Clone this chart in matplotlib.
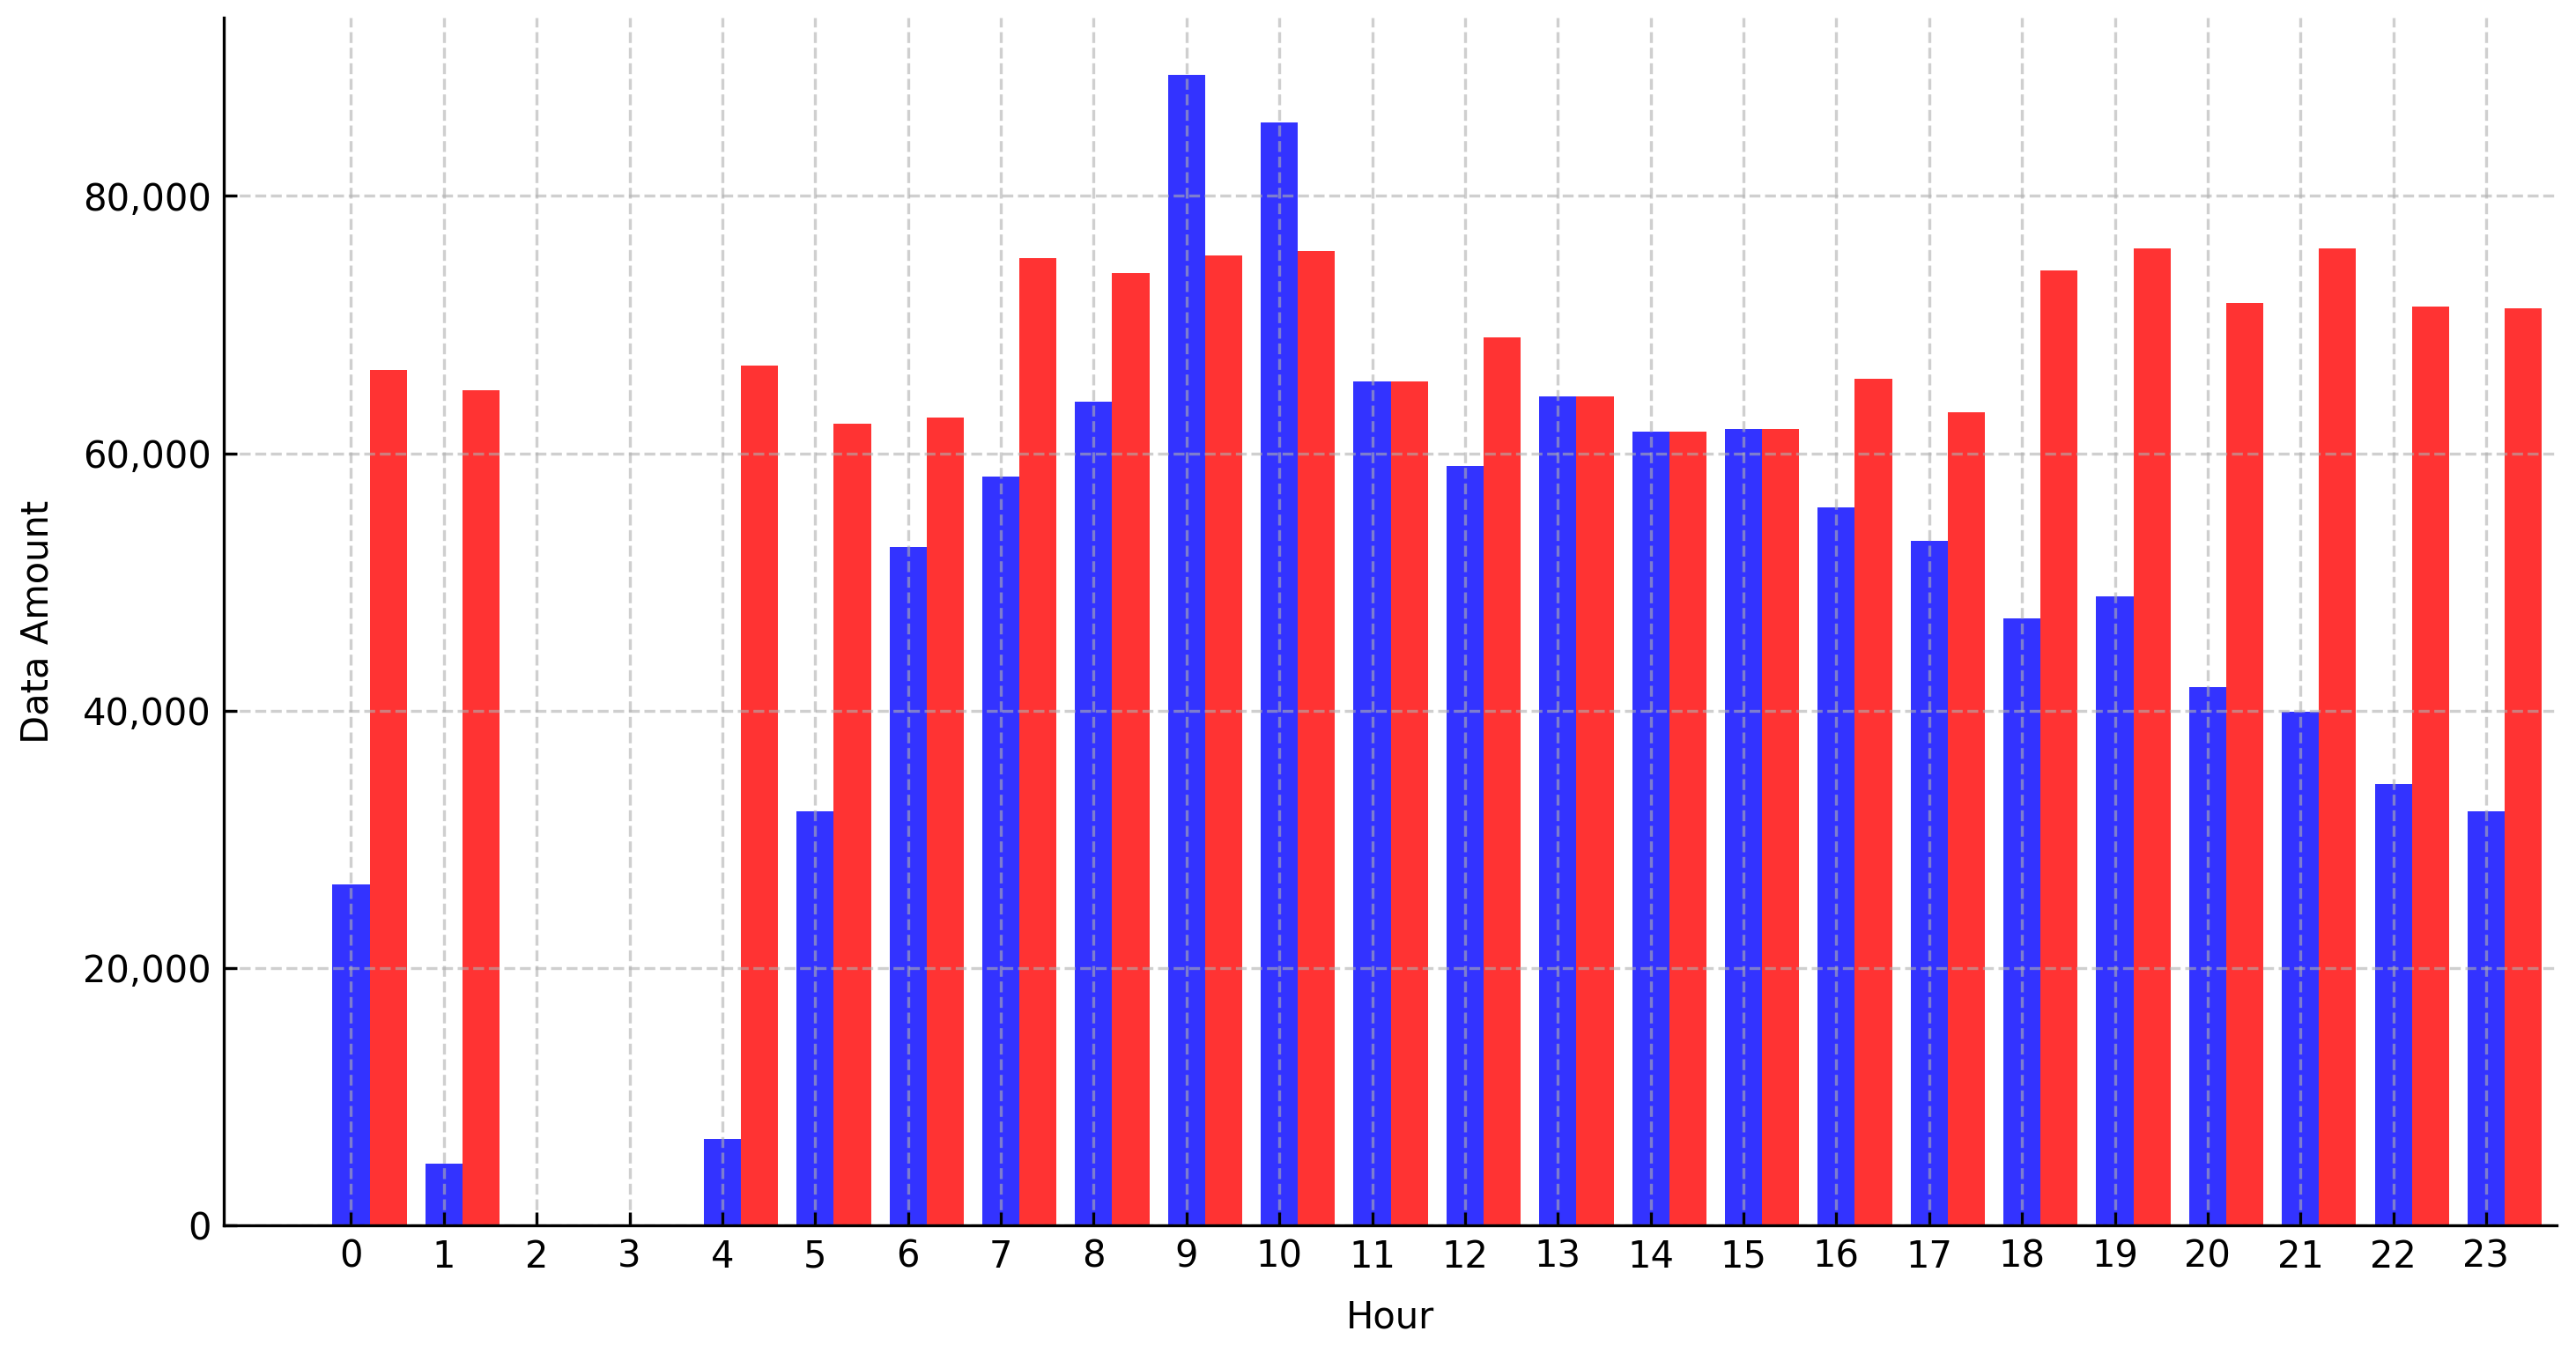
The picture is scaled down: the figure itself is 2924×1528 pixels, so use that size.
import matplotlib
matplotlib.use("Agg")
import matplotlib.pyplot as plt
import matplotlib.ticker as mticker
import numpy as np

hours = list(range(24))
blue_values = [26500, 4800, 0, 0, 6700, 32200, 52700, 58200, 64000, 89400, 85700, 65600,
               59000, 64400, 61700, 61900, 55800, 53200, 47200, 48900, 41800, 39900, 34300, 32200]
red_values = [66500, 64900, 0, 0, 66800, 62300, 62800, 75200, 74000, 75400, 75700, 65600,
              69000, 64400, 61700, 61900, 65800, 63200, 74200, 75900, 71700, 75900, 71400, 71300]

x = np.arange(len(hours))
width = 0.4

fig = plt.figure(figsize=(2924 / 300, 1528 / 300), dpi=300)
ax = fig.add_axes([0.0869, 0.0897, 0.9925 - 0.0869, 0.987 - 0.0897])

ax.bar(x, blue_values, width, color='blue', alpha=0.8)
ax.bar(x + width, red_values, width, color='red', alpha=0.8)

ax.set_xlabel('Hour', labelpad=6.5)
ax.set_ylabel('Data Amount', labelpad=7.3)
ax.set_xticks(x)
ax.set_xticklabels([str(h) for h in hours])
ax.set_xlim(-1.37, 23.76)
ax.yaxis.set_major_formatter(mticker.FuncFormatter(lambda v, p: f'{int(v):,}'))

ax.tick_params(direction='in')
ax.grid(True, linestyle='--', alpha=0.6)
ax.spines['top'].set_visible(False)
ax.spines['right'].set_visible(False)

fig.savefig('out.png', dpi=300)
